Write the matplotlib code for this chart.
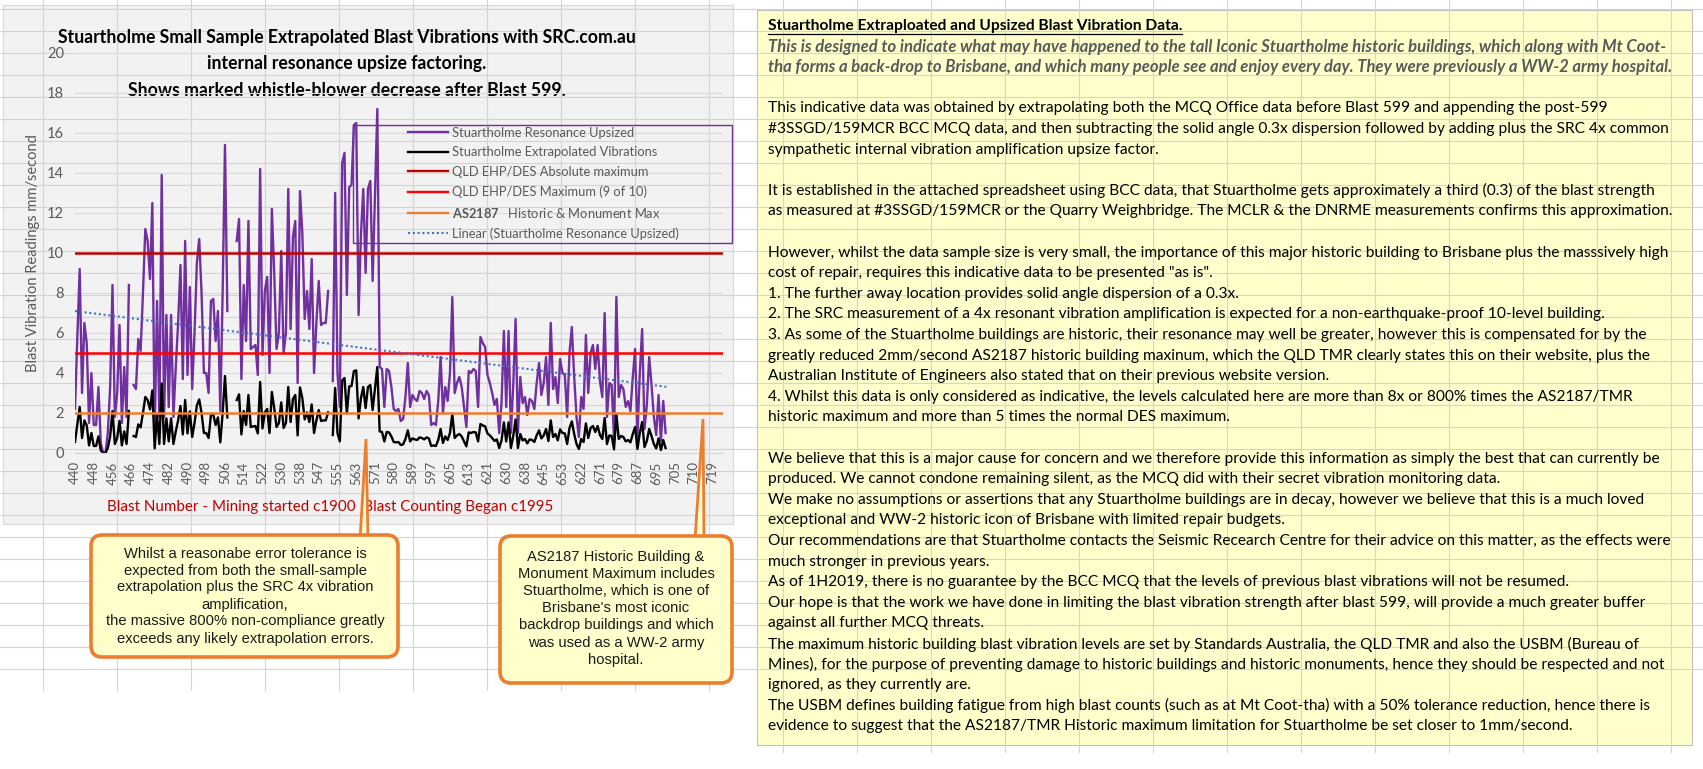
import numpy as np
import matplotlib
matplotlib.use("Agg")
import matplotlib.pyplot as plt
from matplotlib.patches import Rectangle, FancyBboxPatch, Polygon
from matplotlib.lines import Line2D

nan = np.nan

# =============================================================================
# DATA
# =============================================================================

# category axis labels, one every 8 blasts
BLAST_LABELS = ["440", "448", "456", "466", "474", "482", "490", "498", "506",
                "514", "522", "530", "538", "547", "555", "563", "571", "580",
                "589", "597", "605", "613", "621", "630", "638", "645", "653",
                "622", "671", "679", "687", "695", "705", "710", "719"]
N_CATEGORIES = 277

# Stuartholme Resonance Upsized (mm/s)
RESONANCE = [
    2.2, 5.8, 9.2, 3.0, 6.5, 5.5, 1.5, 4.0, 1.4, 1.4,
    3.3, 0.5, 0.0, 0.0, 1.0, 3.3, 8.4, 1.8, 3.0, 6.4,
    1.5, 4.3, 1.8, 8.4, nan, 3.4, 3.2, 5.7, 5.1, 8.0,
    11.2, 10.6, 8.7, 12.5, 0.9, 7.6, 1.8, 13.9, 1.8, 6.9,
    2.3, 6.9, 1.8, 4.3, 6.5, 9.4, 3.7, 10.6, 3.9, 8.3,
    3.2, 6.0, 9.5, 10.7, 8.0, 4.0, 4.0, 3.0, 7.6, 7.7,
    5.6, 7.1, 2.1, 8.0, 15.4, 7.1, nan, nan, nan, 10.6,
    11.7, 3.7, 8.4, 5.6, 11.6, 5.2, 5.3, 5.4, 3.9, 14.2,
    4.9, 8.1, 8.8, 4.0, 12.2, 9.0, 5.2, 6.0, 10.1, 5.0,
    6.0, 13.2, 6.2, 10.8, 11.6, 3.5, 13.1, 11.0, 6.7, 8.1,
    6.2, 9.7, 4.0, 6.5, 8.6, 6.4, 6.5, 6.5, 8.1, nan,
    3.6, 13.0, 4.0, 2.3, 14.5, 15.0, 7.9, 13.3, 13.4, 16.4,
    16.5, 6.9, 10.9, 13.2, 9.0, 13.2, 13.6, 8.6, 13.0, 17.2,
    4.3, 4.2, 2.3, 4.2, 4.1, 3.3, 2.2, 2.1, 2.2, 1.6,
    1.7, 2.8, 4.5, 2.3, 2.9, 2.7, 2.6, 3.1, 3.0, 2.7,
    3.1, 2.9, 1.4, 1.5, 1.4, 2.6, 4.8, 2.0, 3.3, 2.6,
    4.0, 7.8, 3.0, 3.5, 3.8, 3.3, 2.3, 1.3, 4.1, 4.0,
    4.2, 4.1, 2.3, 5.8, 5.5, 5.3, 3.9, 3.5, 3.0, 2.4,
    2.7, 1.0, 2.5, 6.1, 2.3, 6.1, 1.0, 3.4, 6.7, 1.0,
    3.8, 2.5, 2.8, 1.9, 2.7, 2.6, 2.2, 3.5, 4.5, 2.9,
    3.5, 4.8, 2.4, 6.5, 3.2, 3.8, 2.5, 4.7, 4.0, 3.9,
    1.8, 5.0, 6.3, 3.8, 1.8, 0.8, 2.8, 2.2, 5.9, 3.0,
    5.0, 5.4, 4.2, 5.4, 3.6, 2.8, 7.0, 1.8, 3.5, 3.4,
    0.7, 7.8, 2.8, 3.4, 3.2, 2.3, 2.6, 2.1, 3.8, 5.2,
    0.8, 4.0, 6.2, 1.2, 2.4, 4.8, 3.4, 1.8, 0.9, 2.9,
    0.6, 2.6, 1.0,
]

# Stuartholme Extrapolated Vibrations (mm/s)
EXTRAPOLATED = [
    0.55, 1.45, 2.3, 0.75, 1.63, 1.38, 0.38, 1.0, 0.35, 0.35,
    0.83, 0.13, 0.0, 0.0, 0.25, 0.83, 2.1, 0.45, 0.75, 1.6,
    0.38, 1.08, 0.45, 2.1, nan, 0.85, 0.8, 1.43, 1.28, 2.0,
    2.8, 2.65, 2.18, 3.13, 0.23, 1.9, 0.45, 3.48, 0.45, 1.73,
    0.58, 1.73, 0.45, 1.08, 1.63, 2.35, 0.93, 2.65, 0.98, 2.08,
    0.8, 1.5, 2.38, 2.68, 2.0, 1.0, 1.0, 0.75, 1.9, 1.93,
    1.4, 1.78, 0.53, 2.0, 3.85, 1.78, nan, nan, nan, 2.65,
    2.93, 0.93, 2.1, 1.4, 2.9, 1.3, 1.33, 1.35, 0.98, 3.55,
    1.23, 2.03, 2.2, 1.0, 3.05, 2.25, 1.3, 1.5, 2.53, 1.25,
    1.5, 3.3, 1.55, 2.7, 2.9, 0.88, 3.28, 2.75, 1.68, 2.03,
    1.55, 2.43, 1.0, 1.63, 2.15, 1.6, 1.63, 1.63, 2.03, nan,
    0.9, 3.25, 1.0, 0.58, 3.63, 3.75, 1.98, 3.33, 3.35, 4.1,
    4.13, 1.73, 2.73, 3.3, 2.25, 3.3, 3.4, 2.15, 3.25, 4.3,
    1.08, 1.05, 0.58, 1.05, 1.03, 0.83, 0.55, 0.53, 0.55, 0.4,
    0.43, 0.7, 1.13, 0.58, 0.73, 0.68, 0.65, 0.78, 0.75, 0.68,
    0.78, 0.73, 0.35, 0.38, 0.35, 0.65, 1.2, 0.5, 0.83, 0.65,
    1.0, 1.95, 0.75, 0.88, 0.95, 0.83, 0.58, 0.33, 1.03, 1.0,
    1.05, 1.03, 0.58, 1.45, 1.38, 1.33, 0.98, 0.88, 0.75, 0.6,
    0.68, 0.25, 0.63, 1.53, 0.58, 1.53, 0.25, 0.85, 1.68, 0.25,
    0.95, 0.63, 0.7, 0.48, 0.68, 0.65, 0.55, 0.88, 1.13, 0.73,
    0.88, 1.2, 0.6, 1.63, 0.8, 0.95, 0.63, 1.18, 1.0, 0.98,
    0.45, 1.25, 1.58, 0.95, 0.45, 0.2, 0.7, 0.55, 1.48, 0.75,
    1.25, 1.35, 1.05, 1.35, 0.9, 0.7, 1.75, 0.45, 0.88, 0.85,
    0.18, 1.95, 0.7, 0.85, 0.8, 0.58, 0.65, 0.53, 0.95, 1.3,
    0.2, 1.0, 1.55, 0.3, 0.6, 1.2, 0.85, 0.45, 0.23, 0.73,
    0.15, 0.65, 0.25,
]

# limit lines (mm/s)
ABS_MAX = 10      # QLD EHP/DES absolute maximum
DES_MAX = 5       # QLD EHP/DES maximum (9 of 10)
AS2187_MAX = 2    # AS2187 historic & monument max

# linear trendline of the resonance series, as drawn
TREND_X = [0, 253]
TREND_Y = [7.1, 3.3]

LEGEND_LABELS = ["Stuartholme Resonance Upsized",
                 "Stuartholme Extrapolated Vibrations",
                 "QLD EHP/DES Absolute maximum",
                 "QLD EHP/DES Maximum (9 of 10)",
                 r"$\mathbf{AS2187}$   Historic & Monument Max",
                 "Linear (Stuartholme Resonance Upsized)"]

TITLE_LINES = ["Stuartholme Small Sample Extrapolated Blast Vibrations with SRC.com.au",
               "internal resonance upsize factoring.",
               "Shows marked whistle-blower decrease after Blast 599."]

CALLOUT_LEFT = ["Whilst a reasonabe error tolerance is",
                "expected from both the small-sample",
                "extrapolation plus the SRC 4x vibration",
                "amplification,",
                "the massive 800% non-compliance greatly",
                "exceeds any likely extrapolation errors."]

CALLOUT_RIGHT = ["AS2187 Historic Building &",
                 "Monument Maximum includes",
                 "Stuartholme, which is one of",
                 "Brisbane's most iconic",
                 "backdrop buildings and which",
                 "was used as a WW-2 army",
                 "hospital."]

NOTE_TITLE = "Stuartholme Extraploated and Upsized Blast Vibration Data."
NOTE_INTRO = [
    "This is designed to indicate what may have happened to the tall Iconic Stuartholme historic buildings, which along with Mt Coot-",
    "tha forms a back-drop to Brisbane, and which many people see and enjoy every day. They were previously a WW-2 army hospital.",
]
NOTE_BODY = [
    "",
    "This indicative data was obtained by extrapolating both the MCQ Office data before Blast 599 and appending the post-599",
    "#3SSGD/159MCR BCC MCQ data, and then subtracting the solid angle 0.3x dispersion followed by adding plus the SRC 4x common",
    "sympathetic internal vibration amplification upsize factor.",
    "",
    "It is established in the attached spreadsheet using BCC data, that Stuartholme gets approximately a third (0.3) of the blast strength",
    "as measured at #3SSGD/159MCR or the Quarry Weighbridge. The MCLR & the DNRME measurements confirms this approximation.",
    "",
    "However, whilst the data sample size is very small, the importance of this major historic building to Brisbane plus the masssively high",
    "cost of repair, requires this indicative data to be presented \"as is\".",
    "1. The further away location provides solid angle dispersion of a 0.3x.",
    "2. The SRC measurement of a 4x resonant vibration amplification is expected for a non-earthquake-proof 10-level building.",
    "3. As some of the Stuartholme buildings are historic, their resonance may well be greater, however this is compensated for by the",
    "greatly reduced 2mm/second AS2187 historic building maxinum, which the QLD TMR clearly states this on their website, plus the",
    "Australian Institute of Engineers also stated that on their previous website version.",
    "4. Whilst this data is only considered as indicative, the levels calculated here are more than 8x or 800% times the AS2187/TMR",
    "historic maximum and more than 5 times the normal DES maximum.",
    "",
    "We believe that this is a major cause for concern and we therefore provide this information as simply the best that can currently be",
    "produced. We cannot condone remaining silent, as the MCQ did with their secret vibration monitoring data.",
    "We make no assumptions or assertions that any Stuartholme buildings are in decay, however we believe that this is a much loved",
    "exceptional and WW-2 historic icon of Brisbane with limited repair budgets.",
    "Our recommendations are that Stuartholme contacts the Seismic Recearch Centre for their advice on this matter, as the effects were",
    "much stronger in previous years.",
    "As of 1H2019, there is no guarantee by the BCC MCQ that the levels of previous blast vibrations will not be resumed.",
    "Our hope is that the work we have done in limiting the blast vibration strength after blast 599, will provide a much greater buffer",
    "against all further MCQ threats.",
    "The maximum historic building blast vibration levels are set by Standards Australia, the QLD TMR and also the USBM (Bureau of",
    "Mines), for the purpose of preventing damage to historic buildings and historic monuments, hence they should be respected and not",
    "ignored, as they currently are.",
    "The USBM defines building fatigue from high blast counts (such as at Mt Coot-tha) with a 50% tolerance reduction, hence there is",
    "evidence to suggest that the AS2187/TMR Historic maximum limitation for Stuartholme be set closer to 1mm/second.",
]

# =============================================================================
# STYLE
# =============================================================================
COLORS = {
    'resonance': '#7030A0',
    'extrap': '#000000',
    'abs_max': '#C00000',
    'des_max': '#FF0000',
    'as2187': '#ED7D31',
    'trend': '#4472C4',
    'text': '#595959',
    'grid': '#D9D9D9',
    'chart_bg': '#F2F2F2',
    'cells': '#D4D4D4',
    'note_bg': '#FFFFCC',
}

plt.rcParams['font.family'] = ['Lato', 'DejaVu Sans']
plt.rcParams['mathtext.fontset'] = 'custom'
plt.rcParams['mathtext.rm'] = 'Lato'
plt.rcParams['mathtext.bf'] = 'Lato:bold'

W, H = 1703, 769
fig = plt.figure(figsize=(W / 100, H / 100), dpi=100)

# pixel-space background layer (spreadsheet cells, chart area, note box)
bg = fig.add_axes([0, 0, 1, 1], zorder=0)
bg.set_xlim(0, W)
bg.set_ylim(H, 0)
bg.axis('off')

for cx in np.arange(43, W, 74):
    bg.plot([cx, cx], [0, 690 if cx < 740 else 752], color=COLORS['cells'], lw=0.8)
for cy in np.arange(9.3, 672, 22):
    bg.plot([0, W], [cy, cy], color=COLORS['cells'], lw=0.8)

bg.add_patch(Rectangle((3, 5), 730, 519, fc=COLORS['chart_bg'], ec=COLORS['grid'], lw=0.8))
bg.add_patch(Rectangle((757, 10), 935, 735, fc=COLORS['note_bg'], ec='#BFBFBF', lw=0.8))

# chart title / axis titles
for k, line in enumerate(TITLE_LINES):
    bg.text(347, 37 + 26.5 * k, line, ha='center', va='center',
            fontsize=12.7, fontweight='bold', color='black')
bg.text(33, 253, "Blast Vibration Readings mm/second", rotation=90,
        ha='center', va='center', fontsize=10.5, color=COLORS['text'])
bg.text(330, 507, "Blast Number - Mining started c1900  Blast Counting Began c1995",
        ha='center', va='center', fontsize=10.9, color=COLORS['abs_max'])

# =============================================================================
# CHART
# =============================================================================
ax = fig.add_axes([75 / W, 1 - 453 / H, 648 / W, 400 / H], zorder=1)
ax.patch.set_alpha(0)

x = np.arange(len(RESONANCE))
ax.plot(x, RESONANCE, color=COLORS['resonance'], lw=1.7, solid_joinstyle='round')
ax.plot(x, EXTRAPOLATED, color=COLORS['extrap'], lw=1.7, solid_joinstyle='round')
ax.axhline(ABS_MAX, color=COLORS['abs_max'], lw=1.8)
ax.axhline(DES_MAX, color=COLORS['des_max'], lw=1.8)
ax.axhline(AS2187_MAX, color=COLORS['as2187'], lw=1.8)
ax.plot(TREND_X, TREND_Y, color=COLORS['trend'], lw=1.5, ls=(0, (1, 1.3)))

ax.set_xlim(0, N_CATEGORIES - 0.5)
ax.set_ylim(0, 20)
ax.set_yticks(range(0, 21, 2))
ax.set_xticks(range(0, N_CATEGORIES, 8))
ax.set_xticklabels(BLAST_LABELS, rotation=90)
ax.tick_params(axis='both', length=0, colors=COLORS['text'])
ax.tick_params(axis='x', labelsize=9.5, pad=6)
ax.tick_params(axis='y', labelsize=10.5, pad=8)
ax.grid(axis='y', color=COLORS['grid'], lw=0.8)
ax.set_axisbelow(True)
for side in ['top', 'right', 'left']:
    ax.spines[side].set_visible(False)
ax.spines['bottom'].set_color(COLORS['grid'])

handles = [Line2D([], [], color=COLORS['resonance'], lw=1.7),
           Line2D([], [], color=COLORS['extrap'], lw=1.7),
           Line2D([], [], color=COLORS['abs_max'], lw=1.7),
           Line2D([], [], color=COLORS['des_max'], lw=1.7),
           Line2D([], [], color=COLORS['as2187'], lw=1.7),
           Line2D([], [], color=COLORS['trend'], lw=1.5, ls=(0, (1, 1.3)))]
ax.legend(handles, LEGEND_LABELS, loc='upper left',
          bbox_to_anchor=(408 / W, 1 - 127 / H), bbox_transform=fig.transFigure,
          frameon=False, fontsize=9.3, labelcolor=COLORS['text'],
          handlelength=3.1, handletextpad=0.3, labelspacing=0.58,
          borderpad=0, borderaxespad=0)

# =============================================================================
# FOREGROUND: legend frame, callouts
# =============================================================================
fg = fig.add_axes([0, 0, 1, 1], zorder=2)
fg.set_xlim(0, W)
fg.set_ylim(H, 0)
fg.axis('off')
fg.patch.set_alpha(0)

fg.add_patch(Rectangle((353, 125), 379, 118, fill=False, ec=COLORS['resonance'], lw=1))

orange = COLORS['as2187']
fg.add_patch(Polygon([(366, 439), (360, 540), (368, 540)], closed=True,
                     fc=COLORS['note_bg'], ec=orange, lw=2))
fg.add_patch(Polygon([(703, 419), (695, 540), (704, 540)], closed=True,
                     fc=COLORS['note_bg'], ec=orange, lw=2))
fg.add_patch(FancyBboxPatch((91, 535), 307, 122, boxstyle="round,pad=0,rounding_size=11",
                            fc=COLORS['note_bg'], ec=orange, lw=2.6))
fg.add_patch(FancyBboxPatch((500, 536), 232, 147, boxstyle="round,pad=0,rounding_size=11",
                            fc=COLORS['note_bg'], ec=orange, lw=2.6))

for k, line in enumerate(CALLOUT_LEFT):
    fg.text(245, 553.5 + 17 * k, line, ha='center', va='center', fontsize=10.6,
            family='Liberation Sans', color='#1a1a1a')
for k, line in enumerate(CALLOUT_RIGHT):
    fg.text(616, 557 + 17.1 * k, line, ha='center', va='center', fontsize=10.6,
            family='Liberation Sans', color='#1a1a1a')

# =============================================================================
# NOTE BOX TEXT
# =============================================================================
LINE_H = 20.6
tx = 768
title_txt = bg.text(tx, 26, NOTE_TITLE, ha='left', va='center', fontsize=11.2,
                    fontweight='bold', color='black')
for k, line in enumerate(NOTE_INTRO):
    bg.text(tx, 26 + LINE_H * (k + 1), line, ha='left', va='center', fontsize=12.0,
            fontweight='bold', style='italic', color=COLORS['text'])
for k, line in enumerate(NOTE_BODY):
    if line:
        bg.text(tx, 26 + LINE_H * (k + 3), line, ha='left', va='center',
                fontsize=11.15, color='black')

# underline the note title
fig.canvas.draw()
bb = title_txt.get_window_extent(renderer=fig.canvas.get_renderer())
(x0, _), (x1, _) = bg.transData.inverted().transform([[bb.x0, bb.y0], [bb.x1, bb.y0]])
bg.plot([x0, x1], [34, 34], color='black', lw=0.9)

fig.savefig("out.png", dpi=100)
